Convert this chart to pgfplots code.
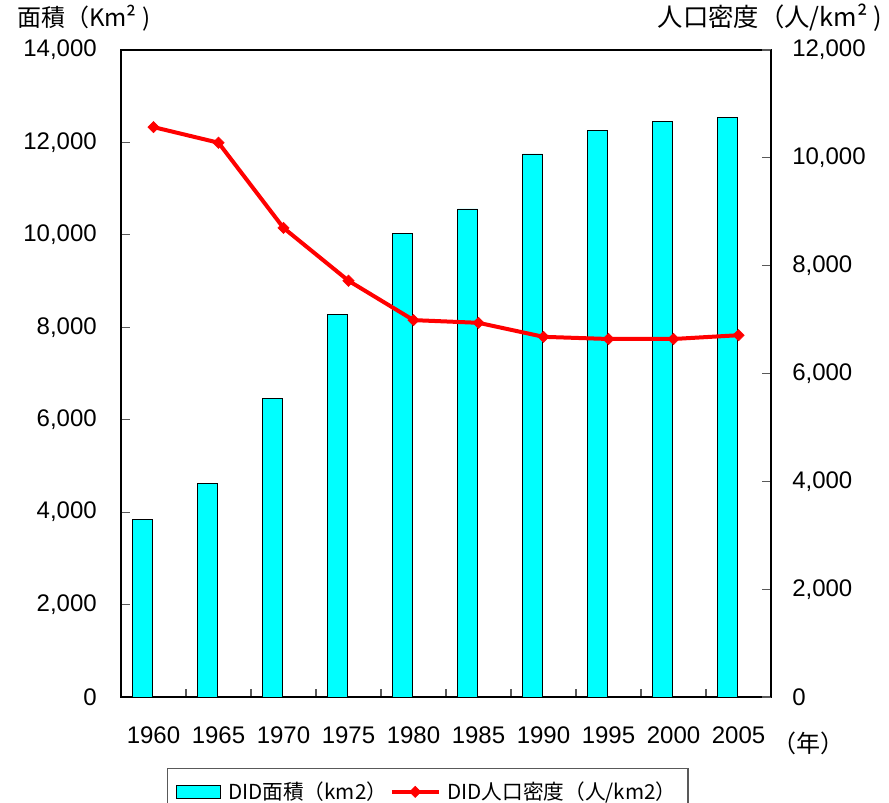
\documentclass[border=0pt]{standalone}
\usepackage{pgfplots}
\usepackage{pgfplotstable}
\pgfplotsset{compat=1.18}
\usepackage{fontspec}
\setmainfont{Liberation Sans}
\newfontfamily\cjk{Noto Sans CJK JP}
\definecolor{barcyan}{RGB}{0,255,255}
\definecolor{linered}{RGB}{255,0,0}

% x: category index, area: DID area (km2), density: people per km2
\pgfplotstableread{
x year area density
0 1960 3850 10570
1 1965 4630 10280
2 1970 6450 8700
3 1975 8270 7720
4 1980 10020 6990
5 1985 10560 6940
6 1990 11750 6680
7 1995 12250 6640
8 2000 12460 6640
9 2005 12550 6710
}\data

\pgfplotsset{
  linelegend/.style={legend image code/.code={%
    \draw[mark repeat=2, mark phase=2, ##1] plot coordinates {(0pt,0pt) (17.5pt,0pt) (35pt,0pt)};}},
  barlegend/.style={legend image code/.code={%
    \draw[fill=barcyan, draw=black, line width=0.7pt] (0pt,-5pt) rectangle (33pt,5pt);}},
}

\begin{document}
\begin{tikzpicture}
\pgfplotsset{
  common/.style={
    scale only axis, width=487.5pt, height=485.25pt,
    at={(0,0)}, anchor=south west,
    xmin=-0.5, xmax=9.5,
    axis line style={line width=1.1pt},
    tick style={gray!70!black, line width=0.9pt},
    major tick length=7pt,
    scaled ticks=false,
    /pgf/number format/assume math mode=true,
    /pgf/number format/1000 sep={,},
    ticklabel style={font=\fontsize{18}{20}\selectfont},
  }
}
\begin{axis}[common,
    ymin=0, ymax=14000, ytick={0,2000,...,14000},
    tick pos=left,
    xtick={0,...,9},
    xticklabels={1960,1965,1970,1975,1980,1985,1990,1995,2000,2005},
    major x tick style={draw=none},
    minor xtick={0.5,1.5,...,8.5},
    minor tick length=6pt,
    xticklabel style={anchor=center, inner sep=0pt, yshift=-28.5pt},
    yticklabel style={anchor=east, inner sep=0pt, xshift=-18pt},
  ]
  \addplot[ybar, bar width=15pt, bar shift=-8.25pt, fill=barcyan, draw=black, line width=0.7pt]
    table[x=x, y=area] {\data};
\end{axis}

\begin{axis}[common,
    ymin=0, ymax=12000, ytick={0,2000,...,12000},
    axis y line*=right, axis x line=none,
    yticklabel style={anchor=west, inner sep=0pt, xshift=15.75pt},
    legend columns=2,
    legend style={at={(0.472,-0.1097)}, anchor=north, draw=gray!70!black, line width=1pt,
      font=\cjk\fontsize{15.5}{18}\selectfont, inner xsep=6.5pt, inner ysep=8pt,
      /tikz/every odd column/.append style={column sep=3pt},
      /tikz/every even column/.append style={column sep=0pt}},
  ]
  \addlegendimage{barlegend}
  \addlegendentry{DID面積（km2）}
  \addplot[linered, line width=3pt, mark=square*, mark size=3pt,
    mark options={rotate=45, solid, line width=0.4pt}, linelegend]
    table[x=x, y=density] {\data};
  \addlegendentry{DID人口密度（人/km2）}
\end{axis}

\node[anchor=west, inner sep=0pt, font=\cjk\fontsize{18}{20}\selectfont] at (-78pt,509.25pt) {面積（Km² )};
\node[anchor=east, inner sep=0pt, font=\cjk\fontsize{19}{21}\selectfont] at (570.75pt,509.25pt) {人口密度（人/km² )};
\node[inner sep=0pt, font=\cjk\fontsize{18}{20}\selectfont] at (515.25pt,-34.5pt) {（年）};

\pgfresetboundingbox
\useasboundingbox (-90.75pt,-79.5pt) rectangle (576pt,522.75pt);
\end{tikzpicture}
\end{document}
